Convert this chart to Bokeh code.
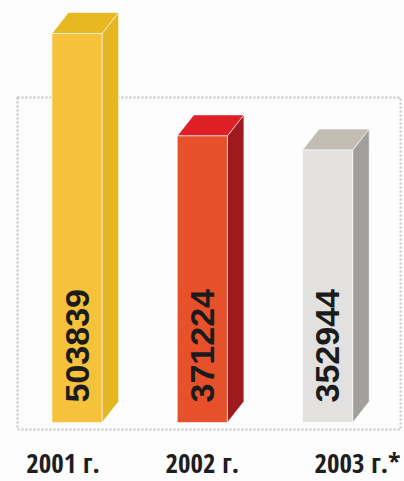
import math
from bokeh.plotting import figure
from bokeh.models import Range1d, ColumnDataSource
from bokeh.core.properties import value
from bokeh.embed import file_html
from bokeh.resources import INLINE

# ---- data ----
years = ["2001 г.", "2002 г.", "2003 г.*"]
values = [503839, 371224, 352944]
value_labels = ["503839", "371224", "352944"]

front_colors = ["#F6C13B", "#E6512B", "#E2E1E0"]
side_colors = ["#E6B622", "#9E1A1F", "#A19F9B"]
top_colors = ["#E8B823", "#DF1F26", "#C3BCB2"]
label_x_offsets = [-14, 0, 30]

# ---- geometry (style) ----
W, H = 404, 481
px_per_x = 125.3           # pixels per category step
x0_px = 76.5               # first bar centre (px from left)
base_px = 59.0             # bar bottom (px from bottom)
k = 389.0 / max(values)    # px per value unit
bar_w = 0.4
dx = 16.5 / px_per_x
dy = 21.0 / k

xs = list(range(len(values)))

p = figure(width=W, height=H, output_backend="svg", toolbar_location=None,
           x_range=Range1d(-x0_px / px_per_x, (W - x0_px) / px_per_x),
           y_range=Range1d(-base_px / k, (H - base_px) / k),
           min_border=0)
p.axis.visible = False
p.grid.visible = False
p.outline_line_color = None
p.background_fill_color = "#fdfdfd"
p.border_fill_color = "#fdfdfd"

# dotted frame behind the bars
p.quad(left=[(17 - x0_px) / px_per_x], right=[(400 - x0_px) / px_per_x],
       bottom=[-7 / k], top=[325 / k],
       fill_alpha=0, line_color="#c4c4c4", line_width=2, line_dash="2 2")

# side and top faces
side_xs, side_ys, top_xs, top_ys = [], [], [], []
for x, v in zip(xs, values):
    r = x + bar_w / 2
    l = x - bar_w / 2
    side_xs.append([r, r + dx, r + dx, r])
    side_ys.append([0, dy, v + dy, v])
    top_xs.append([l, l + dx, r + dx, r])
    top_ys.append([v, v + dy, v + dy, v])

p.patches(xs=side_xs, ys=side_ys, fill_color=side_colors,
          line_color="#ffffff", line_alpha=0.5, line_width=1)
p.patches(xs=top_xs, ys=top_ys, fill_color=top_colors,
          line_color="#ffffff", line_alpha=0.6, line_width=1)
p.vbar(x=xs, top=values, bottom=0, width=bar_w, fill_color=front_colors,
       line_color="#ffffff", line_alpha=0.6, line_width=1)

# values, rotated inside the front face
p.text(x=xs, y=[0] * 3, text=value_labels, angle=math.pi / 2,
       y_offset=-20, text_align="left", text_baseline="middle",
       text_font=value("Liberation Sans"), text_font_style="bold",
       text_font_size="34px", text_color="#1b1b1b")

# year labels
src = ColumnDataSource(dict(x=xs, y=[0] * 3, t=years, xo=label_x_offsets))
p.text(x="x", y="y", text="t", source=src, x_offset="xo", y_offset=40,
       text_align="center", text_baseline="middle",
       text_font=value("Open Sans Condensed"),
       text_font_style="bold", text_font_size="27px", text_color="#1e1e1e")

open("out.html", "w").write(file_html(p, INLINE))
